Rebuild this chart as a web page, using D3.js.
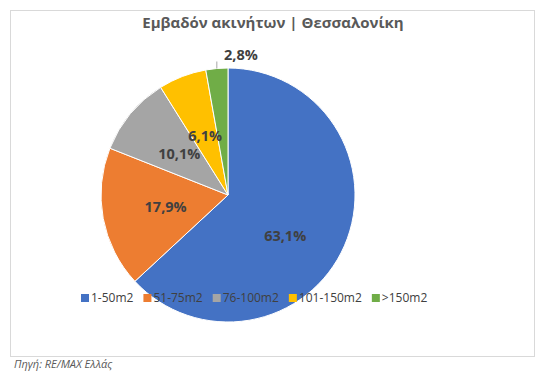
<!DOCTYPE html>
<html>
<head>
<meta charset="utf-8">
<script src="https://cdn.jsdelivr.net/npm/d3@7"></script>
<style>
  body { margin: 0; background: #fff; }
  text { font-family: "Open Sans", "Liberation Sans", sans-serif; }
</style>
</head>
<body>
<svg id="pie" width="553" height="376"></svg>
<script>
// data
const categories = ["1-50m2", "51-75m2", "76-100m2", "101-150m2", ">150m2"];
const shares = [63.1, 17.9, 10.1, 6.1, 2.8];
const colors = ["#4472C4", "#ED7D31", "#A5A5A5", "#FFC000", "#70AD47"];
const title = "Εμβαδόν ακινήτων | Θεσσαλονίκη";
const source = "Πηγή: RE/MAX Ελλάς";

const svg = d3.select("#pie"),
    width = +svg.attr("width"),
    height = +svg.attr("height");

// chart frame
svg.append("rect")
    .attr("x", 10.5).attr("y", 10.5)
    .attr("width", 524).attr("height", 346)
    .attr("fill", "#fff")
    .attr("stroke", "#d9d9d9");

svg.append("text")
    .attr("x", 273).attr("y", 28)
    .attr("text-anchor", "middle")
    .style("font-size", "15px")
    .style("font-weight", "bold")
    .style("fill", "#595959")
    .text(title);

const cx = 228, cy = 195, radius = 127;
const g = svg.append("g").attr("transform", `translate(${cx},${cy})`);

const data = categories.map((c, i) => ({ cat: c, value: shares[i], color: colors[i] }));
const pie = d3.pie().sort(null).value(d => d.value);
const arcs = pie(data);
const arc = d3.arc().innerRadius(0).outerRadius(radius);
const labelArc = d3.arc().innerRadius(radius * 0.5).outerRadius(radius * 0.5);

g.selectAll("path")
    .data(arcs)
    .join("path")
    .attr("d", arc)
    .attr("fill", d => d.data.color)
    .attr("stroke", "#fff")
    .attr("stroke-width", 1);

const fmt = v => d3.format(".1f")(v).replace(".", ",") + "%";

// inside labels (last slice goes outside)
arcs.forEach((d, i) => {
    if (i === arcs.length - 1) return;
    let [x, y] = labelArc.centroid(d);
    if (i === 0) { x -= 1; y += 16; } // excel best fit nudges the big slice down
    g.append("text")
        .attr("x", x).attr("y", y)
        .attr("dy", "0.35em")
        .attr("text-anchor", "middle")
        .style("font-size", "14.5px")
        .style("font-weight", "bold")
        .style("fill", "#404040")
        .text(fmt(d.data.value));
});

// outside label with leader line for the small slice
const last = arcs[arcs.length - 1];
const mid = (last.startAngle + last.endAngle) / 2;
const ex = radius * Math.sin(mid), ey = -radius * Math.cos(mid);
g.append("line")
    .attr("x1", ex).attr("y1", ey)
    .attr("x2", ex).attr("y2", ey - 7)
    .attr("stroke", "#a6a6a6")
    .attr("stroke-width", 1);
g.append("text")
    .attr("x", ex + 24).attr("y", ey - 14)
    .attr("text-anchor", "middle")
    .attr("dy", "0.35em")
    .style("font-size", "14.5px")
    .style("font-weight", "bold")
    .style("fill", "#404040")
    .text(fmt(last.data.value));

// legend
const legend = svg.append("g").attr("transform", "translate(81, 298)");
let lx = 0;
data.forEach(d => {
    const item = legend.append("g").attr("transform", `translate(${lx},0)`);
    item.append("rect")
        .attr("x", 0).attr("y", -4)
        .attr("width", 8).attr("height", 8)
        .attr("fill", d.color);
    const t = item.append("text")
        .attr("x", 10).attr("y", 0)
        .attr("dy", "0.35em")
        .style("font-size", "12px")
        .style("fill", "#404040")
        .text(d.cat);
    lx += 10 + t.node().getComputedTextLength() + 10;
});

svg.append("text")
    .attr("x", 14).attr("y", 368)
    .style("font-size", "11px")
    .style("font-style", "italic")
    .style("fill", "#595959")
    .text(source);
</script>
</body>
</html>
